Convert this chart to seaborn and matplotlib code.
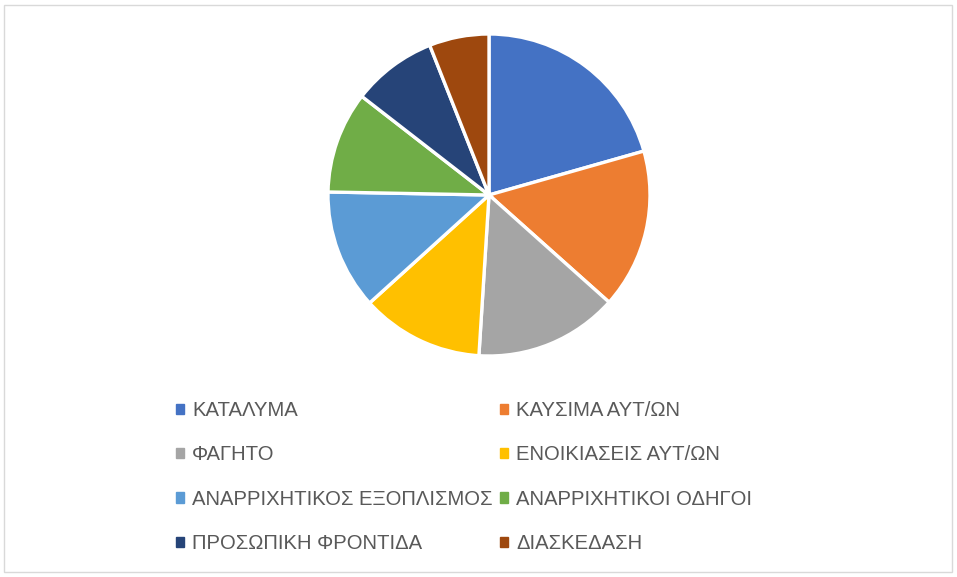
import matplotlib
matplotlib.use('Agg')
import matplotlib.pyplot as plt
import matplotlib.patches as mpatches
import seaborn as sns

# Data (share of total, clockwise from 12 o'clock)
categories = ['ΚΑΤΑΛΥΜΑ', 'ΚΑΥΣΙΜΑ ΑΥΤ/ΩΝ', 'ΦΑΓΗΤΟ', 'ΕΝΟΙΚΙΑΣΕΙΣ ΑΥΤ/ΩΝ',
              'ΑΝΑΡΡΙΧΗΤΙΚΟΣ ΕΞΟΠΛΙΣΜΟΣ', 'ΑΝΑΡΡΙΧΗΤΙΚΟΙ ΟΔΗΓΟΙ',
              'ΠΡΟΣΩΠΙΚΗ ΦΡΟΝΤΙΔΑ', 'ΔΙΑΣΚΕΔΑΣΗ']
values = [20.6, 16.0, 14.4, 12.3, 12.0, 10.2, 8.5, 6.0]
colors = ['#4472C4', '#ED7D31', '#A5A5A5', '#FFC000',
          '#5B9BD5', '#70AD47', '#264478', '#9E480E']

sns.set_theme(style='white')
plt.rcParams['font.family'] = ['Liberation Sans', 'DejaVu Sans']
palette = sns.color_palette(colors)

W, H = 957, 577
fig = plt.figure(figsize=(W / 100, H / 100), dpi=100)

# chart border
fig.patches.append(mpatches.Rectangle((4 / W, 1 - 572 / H), 948 / W, 567 / H,
                                      transform=fig.transFigure, fill=False,
                                      edgecolor='#D9D9D9', linewidth=1))

cx, cy, r = 489, 195, 161
ax = fig.add_axes([(cx - r) / W, 1 - (cy + r) / H, 2 * r / W, 2 * r / H])
wedges, _ = ax.pie(values, colors=palette, startangle=90, counterclock=False,
                   radius=1, wedgeprops=dict(edgecolor='white', linewidth=2.4))
ax.set_xlim(-1, 1)
ax.set_ylim(-1, 1)
ax.set_aspect('equal')
ax.axis('off')

handles = [mpatches.Patch(color=c, label=l) for c, l in zip(palette, categories)]
# legend filled row-wise in two columns
order = [0, 2, 4, 6, 1, 3, 5, 7]
leg = fig.legend([handles[i] for i in order], [categories[i] for i in order],
                 loc='upper left', bbox_to_anchor=(166 / W, 1 - 391 / H),
                 ncol=2, frameon=False, fontsize=14.6, labelcolor='#595959',
                 handlelength=0.4, handleheight=0.4, handletextpad=0.4,
                 columnspacing=0.35, labelspacing=1.25, borderpad=0)

fig.savefig('out.png', dpi=100)
